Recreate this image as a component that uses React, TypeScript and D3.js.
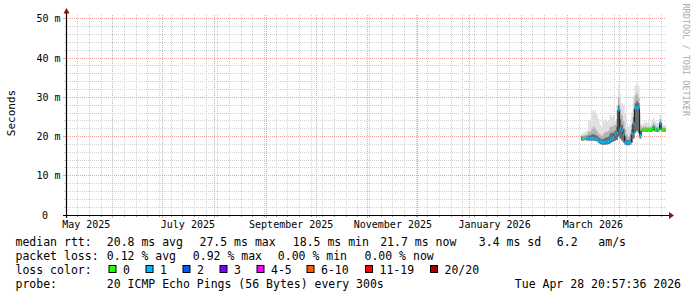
import React, { useEffect } from 'react';
import * as d3 from 'd3';

// ---------- data ----------
const endTime = new Date(Date.UTC(2026, 3, 28, 20, 57, 36));
const startTime = new Date(endTime.getTime() - 360 * 86400000);
const seriesStart = new Date(Date.UTC(2026, 2, 9));

// median RTT (ms), one value per day from Mar 9 2026
const medianMs = [
  19.6, 19.5, 19.6, 19.5, 19.6, 19.5, 19.6, 19.5, 19.4, 19.3,
  19.0, 18.7, 18.6, 18.5, 18.6, 18.7, 18.8, 19.2, 19.5, 19.8,
  20.5, 21.0, 26.8, 22.0, 21.5, 20.5, 18.6, 18.3, 18.3, 18.5,
  20.8, 23.4, 27.2, 27.5, 27.3, 20.3, 21.6, 21.7, 21.7, 21.6,
  21.7, 21.7, 21.8, 22.3, 21.8, 21.7, 21.9, 23.4, 21.7, 21.7, 21.7,
];
// smoke: lowest ping
const minMs = [
  19.0, 19.0, 19.1, 19.0, 19.0, 19.0, 19.0, 19.0, 18.9, 18.8,
  18.4, 18.1, 18.0, 17.9, 18.0, 18.0, 18.1, 18.3, 18.6, 18.8,
  19.0, 19.2, 20.0, 19.5, 19.0, 18.5, 18.0, 17.8, 17.8, 17.9,
  18.5, 19.5, 21.0, 21.5, 21.0, 19.5, 21.2, 21.3, 21.3, 21.2,
  21.3, 21.2, 21.3, 21.5, 21.3, 21.2, 21.3, 21.8, 21.3, 21.3, 21.3,
];
// smoke: dense core upper edge
const coreMs = [
  20.0, 19.9, 20.0, 20.0, 20.3, 20.3, 20.5, 20.6, 20.4, 20.2,
  19.8, 19.5, 19.3, 19.4, 19.7, 19.8, 20.0, 20.8, 21.0, 21.0,
  21.5, 22.5, 28.0, 24.5, 23.0, 22.0, 20.0, 19.2, 19.0, 19.3,
  21.8, 25.0, 28.5, 29.0, 28.5, 21.5, 22.0, 22.0, 22.1, 22.0,
  22.1, 22.0, 22.2, 22.8, 22.2, 22.0, 22.2, 23.8, 22.0, 22.0, 22.0,
];
// smoke: upper (most pings) edge
const upperMs = [
  20.3, 20.2, 20.4, 20.6, 21.2, 21.3, 22.0, 22.5, 22.0, 21.5,
  20.8, 20.5, 20.2, 20.8, 21.2, 21.2, 21.5, 22.5, 22.5, 22.8,
  23.0, 24.5, 30.0, 27.0, 25.5, 24.0, 22.0, 20.5, 20.0, 20.5,
  23.0, 27.0, 30.5, 31.0, 30.0, 23.0, 22.4, 22.5, 22.6, 22.4,
  22.5, 22.4, 22.8, 23.5, 22.8, 22.5, 22.6, 24.5, 22.5, 22.3, 22.3,
];
// smoke: highest ping
const maxMs = [
  20.8, 21.0, 21.2, 21.5, 24.0, 24.2, 26.3, 26.8, 26.5, 25.5,
  24.5, 23.0, 22.5, 24.0, 24.5, 23.8, 24.0, 25.5, 25.0, 25.5,
  24.0, 28.0, 33.2, 31.0, 28.5, 28.0, 26.0, 23.5, 22.5, 23.0,
  26.0, 30.0, 33.0, 33.6, 33.0, 25.5, 23.0, 23.5, 23.8, 23.5,
  23.7, 23.3, 24.0, 24.8, 24.0, 23.5, 23.5, 25.5, 23.5, 23.0, 23.0,
];
// loss bucket index per day
const lossBucket = [
  1, 0, 0, 1, 1, 1, 1, 1, 1, 1,
  1, 1, 1, 1, 1, 1, 1, 1, 1, 1,
  1, 1, 1, 1, 1, 1, 1, 1, 1, 1,
  1, 1, 1, 1, 1, 1, 0, 0, 0, 0,
  0, 0, 0, 1, 0, 1, 0, 1, 0, 0, 0,
];

const lossLabels = ['0', '1', '2', '3', '4-5', '6-10', '11-19', '20/20'];
const lossColors = ['#26ff00', '#00b8ff', '#0059ff', '#7e00ff', '#ff00ff', '#ff5e00', '#ff0000', '#a10000'];
const lossBoxX = [108.5, 145.5, 182.5, 219.5, 256.5, 306.5, 365, 430];

const yMajorTicks = [0, 10, 20, 30, 40, 50];

const legendRows = [
  { y: 245.5, parts: [['median rtt:', 15.5], ['20.8 ms avg', 106.8], ['27.5 ms max', 199.5], ['18.5 ms min', 292.8], ['21.7 ms now', 380.2], ['3.4 ms sd', 478.8], ['6.2   am/s', 556.8]] },
  { y: 259.5, parts: [['packet loss:', 15.5], ['0.12 % avg', 106.8], ['0.92 % max', 192.8], ['0.00 % min', 277.8], ['0.00 % now', 364.5]] },
  { y: 287.5, parts: [['probe:', 15.5], ['20 ICMP Echo Pings (56 Bytes) every 300s', 106.8]] },
];
const stampText = 'Tue Apr 28 20:57:36 2026';

// ---------- layout ----------
const X0 = 66, X1 = 666, Y0 = 215, Y1 = 15;
const MONO = '"DejaVu Sans Mono", monospace';

export default function App() {
  useEffect(() => {
    document.body.style.margin = '0';
  }, []);

  const x = d3.scaleUtc().domain([startTime, endTime]).range([X0, X1]);
  const y = d3.scaleLinear().domain([0, 51]).range([Y0, Y1]);
  const px = (v: number) => Math.floor(v) + 0.5;

  const pts = medianMs.map((m, i) => ({
    t: d3.utcDay.offset(seriesStart, i),
    med: m, lo: minMs[i], core: coreMs[i], up: upperMs[i], hi: maxMs[i], loss: lossBucket[i],
  }));
  const last = pts[pts.length - 1];
  const tail = { ...last, t: new Date(Math.min(d3.utcDay.offset(last.t, 1).getTime(), endTime.getTime())) };
  const stepPts = [...pts, tail];

  const band = (top: (d: any) => number) =>
    d3.area<any>().x(d => x(d.t)).y0(d => y(d.lo)).y1(d => y(top(d))).curve(d3.curveStepAfter)(stepPts) || '';
  const medLine = d3.line<any>().x(d => x(d.t)).y(d => y(d.med)).curve(d3.curveStepAfter)(stepPts) || '';

  const minorH = d3.range(2, 51, 2).filter(v => v % 10 !== 0);
  const majorH = d3.range(10, 51, 10);
  const weeks = d3.utcSunday.range(startTime, endTime);
  const months = d3.utcMonth.range(startTime, endTime);
  const labelMonths = d3.utcMonth.every(2)!.range(new Date(Date.UTC(2025, 4, 1)), endTime);
  const fmt = d3.utcFormat('%B %Y');

  return (
    <svg width={697} height={297} style={{ display: 'block', position: 'absolute', left: 0, top: 0, background: '#fff' }}>
      <rect x={0} y={0} width={697} height={297} fill="#ffffff" />
      {/* minor grid */}
      <g stroke="#d0d0d0" strokeWidth={1}>
        {minorH.map(v => (
          <g key={'mh' + v}>
            <line x1={X0} x2={X1} y1={px(y(v))} y2={px(y(v))} strokeDasharray="1,1" />
            <line x1={X0 - 2} x2={X0} y1={px(y(v))} y2={px(y(v))} />
          </g>
        ))}
        {weeks.map(w => (
          <g key={'w' + w.getTime()}>
            <line x1={px(x(w))} x2={px(x(w))} y1={Y1} y2={Y0} strokeDasharray="1,1" />
            <line x1={px(x(w))} x2={px(x(w))} y1={Y0} y2={Y0 + 2} stroke="#999" />
          </g>
        ))}
      </g>
      {/* major grid */}
      <g stroke="#efa0a0" strokeWidth={1}>
        {majorH.map(v => (
          <g key={'Mh' + v}>
            <line x1={X0} x2={X1} y1={px(y(v))} y2={px(y(v))} strokeDasharray="1,1" />
            <line x1={X0 - 3} x2={X0} y1={px(y(v))} y2={px(y(v))} />
          </g>
        ))}
        {months.map(m => (
          <g key={'m' + m.getTime()}>
            <line x1={px(x(m))} x2={px(x(m))} y1={Y1} y2={Y0} strokeDasharray="1,1" />
            <line x1={px(x(m))} x2={px(x(m))} y1={Y0} y2={Y0 + 3} />
          </g>
        ))}
      </g>

      {/* smoke */}
      <path d={band(d => d.hi)} fill="#e0e0e0" />
      <path d={band(d => d.up)} fill="#b4b4b4" />
      <path d={band(d => d.core)} fill="#6a6a6a" />
      {/* median */}
      <path d={medLine} fill="none" stroke="#202020" strokeWidth={1} />
      {pts.map((d, i) => (
        <line key={'l' + i} x1={x(d.t)} x2={x(stepPts[i + 1].t)} y1={y(d.med)} y2={y(d.med)}
          stroke={lossColors[d.loss]} strokeWidth={3} />
      ))}

      {/* axes */}
      <line x1={X0 - 3} x2={X1 + 4} y1={Y0 + 0.5} y2={Y0 + 0.5} stroke="#000" strokeWidth={1.2} />
      <line x1={X0 + 0.5} x2={X0 + 0.5} y1={Y0 + 3} y2={Y1 - 3} stroke="#000" strokeWidth={1.2} />
      <polygon points={`${X1 + 3},${Y0 - 3} ${X1 + 3},${Y0 + 4} ${X1 + 8},${Y0 + 0.5}`} fill="#8b1010" />
      <polygon points={`${X0 - 2.5},${Y1 - 1.5} ${X0 + 3.5},${Y1 - 1.5} ${X0 + 0.5},${Y1 - 7}`} fill="#8b1010" />

      {/* axis labels */}
      <g fontFamily={MONO} fontSize={10} fill="#000">
        {yMajorTicks.map(v => (
          <text key={'yl' + v} x={v === 0 ? 48 : 60.5} y={Math.floor(y(v)) + 3.5} textAnchor="end">
            {v === 0 ? '0' : `${v} m`}
          </text>
        ))}
        {labelMonths.map(m => (
          <text key={'xl' + m.getTime()} x={x(d3.utcDay.offset(m, 15))} y={228} textAnchor="middle">
            {fmt(m)}
          </text>
        ))}
      </g>
      <text transform="translate(15,113) rotate(-90)" textAnchor="middle" fontFamily={MONO} fontSize={11} fill="#000">
        Seconds
      </text>
      <text transform="translate(683,3.5) rotate(90)" fontFamily={MONO} fontSize={8.5} fill="#aaaaaa">
        RRDTOOL / TOBI OETIKER
      </text>

      {/* legend */}
      <g fontFamily={MONO} fontSize={11.5} fill="#000" style={{ whiteSpace: 'pre' }}>
        {legendRows.map((r, ri) =>
          r.parts.map(([s, px0], pi) => (
            <text key={'r' + ri + '-' + pi} x={px0 as number} y={r.y} xmlSpace="preserve">{s}</text>
          ))
        )}
        <text x={15.5} y={273.5}>loss color:</text>
        {lossLabels.map((l, i) => (
          <g key={'lc' + i}>
            <rect x={lossBoxX[i] + 0.5} y={265.5} width={7} height={7} fill={lossColors[i]} stroke="#000" strokeWidth={1} />
            <text x={lossBoxX[i] + 14.5} y={273.5}>{l}</text>
          </g>
        ))}
        <text x={681} y={287.5} textAnchor="end">{stampText}</text>
      </g>
    </svg>
  );
}
